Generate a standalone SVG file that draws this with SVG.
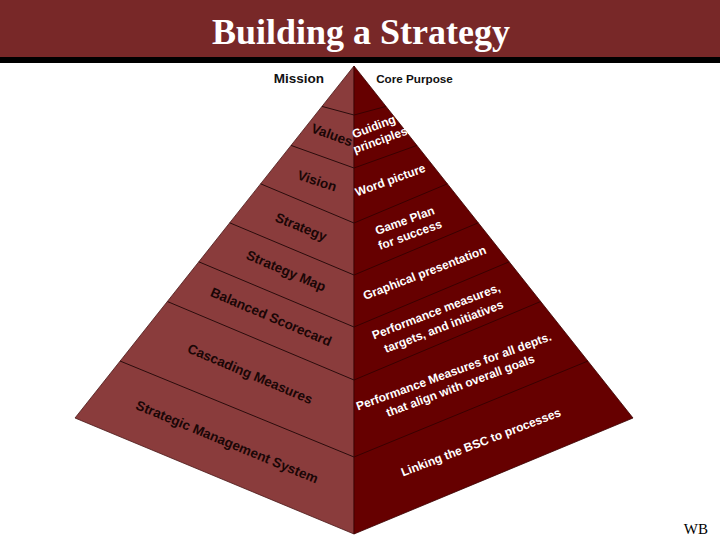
<svg xmlns="http://www.w3.org/2000/svg" width="720" height="540" viewBox="0 0 720 540">
<style>
.lt{font-family:"Liberation Sans",Arial,sans-serif;font-weight:bold;font-size:13.5px;fill:#1a0606;text-anchor:middle;dominant-baseline:central}
.rt{font-family:"Liberation Sans",Arial,sans-serif;font-weight:bold;font-size:12px;fill:#ffffff;text-anchor:start}
.ll{stroke:#2a0c0c;stroke-width:1;fill:none}
.rl{stroke:#3a0000;stroke-width:1;fill:none}
</style>
<rect x="0" y="0" width="720" height="540" fill="#ffffff"/>
<g id="header">
<rect x="0" y="0" width="720" height="57" fill="#782828"/>
<rect x="0" y="57" width="720" height="6" fill="#000000"/>
<text x="361" y="44" font-family="Liberation Serif,'Times New Roman',serif" font-weight="bold" font-size="36" fill="#ffffff" text-anchor="middle">Building a Strategy</text>
</g>
<g id="pyramid">
<polygon id="left-face" points="354,66 75,418 354,534" fill="#8a3c3c" stroke="#4a1818" stroke-width="0.8"/>
<polygon id="right-face" points="354,66 633,418 354,534" fill="#660000" stroke="#3a0000" stroke-width="0.8"/>
</g>
<g id="connectors">
<line class="ll" x1="322" y1="106.4" x2="354" y2="115"/>
<line class="ll" x1="291" y1="145.4" x2="354" y2="168"/>
<line class="ll" x1="260.6" y1="183.8" x2="354" y2="223"/>
<line class="ll" x1="229.7" y1="222.8" x2="354" y2="275"/>
<line class="ll" x1="198.8" y1="261.8" x2="354" y2="327"/>
<line class="ll" x1="167.6" y1="301.6" x2="354" y2="380"/>
<line class="ll" x1="120" y1="361" x2="354" y2="457"/>
<line class="rl" x1="386" y1="106.4" x2="354" y2="115"/>
<line class="rl" x1="417" y1="145.4" x2="354" y2="168"/>
<line class="rl" x1="447.4" y1="183.8" x2="354" y2="223"/>
<line class="rl" x1="478.3" y1="222.8" x2="354" y2="275"/>
<line class="rl" x1="509.2" y1="261.8" x2="354" y2="327"/>
<line class="rl" x1="540.4" y1="301.6" x2="354" y2="380"/>
<line class="rl" x1="588" y1="361" x2="354" y2="457"/>
</g>
<g id="mission">
<text x="299" y="83" font-family="Liberation Sans,Arial,sans-serif" font-weight="bold" font-size="13.5" fill="#111" text-anchor="middle">Mission</text>
</g>
<g id="core-purpose">
<text x="414.5" y="83" font-family="Liberation Sans,Arial,sans-serif" font-weight="bold" font-size="11.7" fill="#111" text-anchor="middle">Core Purpose</text>
</g>
<g id="values"><text class="lt" transform="translate(332,135) rotate(20)">Values</text></g>
<g id="vision"><text class="lt" transform="translate(317,181) rotate(18)">Vision</text></g>
<g id="strategy"><text class="lt" transform="translate(301,227) rotate(22)">Strategy</text></g>
<g id="strategy-map"><text class="lt" transform="translate(286,271) rotate(23)">Strategy Map</text></g>
<g id="balanced-scorecard"><text class="lt" transform="translate(271,317) rotate(23)">Balanced Scorecard</text></g>
<g id="cascading-measures"><text class="lt" transform="translate(250,374) rotate(23)">Cascading Measures</text></g>
<g id="strategic-management-system"><text class="lt" transform="translate(227,442) rotate(22.5)">Strategic Management System</text></g>
<g id="guiding-principles">
<text class="rt" transform="translate(354,138.5) rotate(-21)">Guiding</text>
<text class="rt" transform="translate(355,153.5) rotate(-20)">principles</text>
</g>
<g id="word-picture"><text class="rt" transform="translate(357,196.5) rotate(-20)">Word picture</text></g>
<g id="game-plan">
<text class="rt" transform="translate(377,235) rotate(-20)">Game Plan</text>
<text class="rt" transform="translate(380,250) rotate(-20)">for success</text>
</g>
<g id="graphical-presentation"><text class="rt" transform="translate(365,300) rotate(-21)">Graphical presentation</text></g>
<g id="performance-measures">
<text class="rt" transform="translate(374,339.5) rotate(-21)">Performance measures,</text>
<text class="rt" transform="translate(386,353) rotate(-21)">targets, and initiatives</text>
</g>
<g id="cascading-performance">
<text class="rt" transform="translate(358,410.5) rotate(-20)">Performance Measures for all depts.</text>
<text class="rt" transform="translate(388,417) rotate(-20.5)">that align with overall goals</text>
</g>
<g id="linking"><text class="rt" transform="translate(403,476.5) rotate(-21)">Linking the BSC to processes</text></g>
<text x="708" y="534" font-family="Liberation Serif,'Times New Roman',serif" font-size="15" fill="#000" text-anchor="end">WB</text>
</svg>
